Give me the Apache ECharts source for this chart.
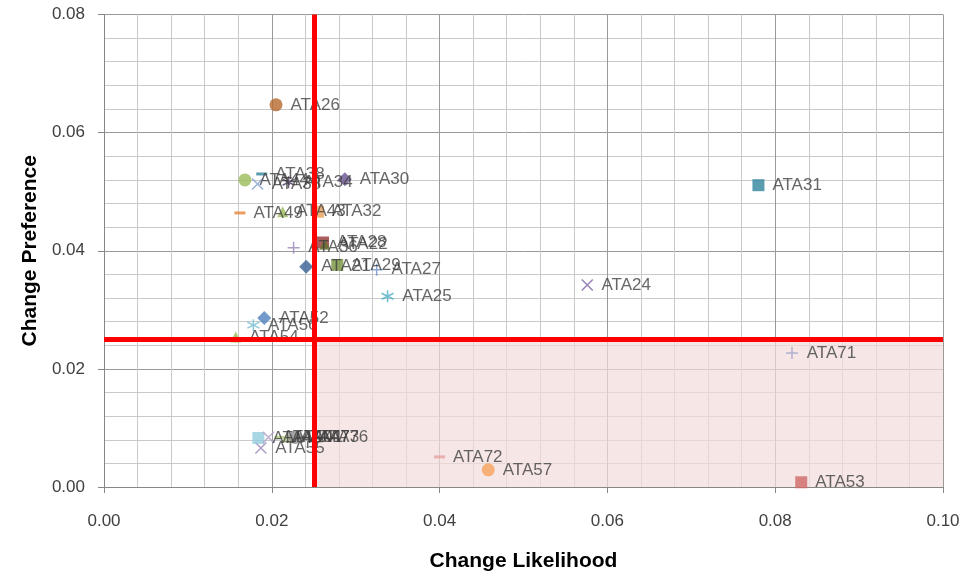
<!DOCTYPE html>
<html>
<head>
<meta charset="utf-8">
<script src="https://cdn.jsdelivr.net/npm/echarts@6/dist/echarts.min.js"></script>
<style>
  html, body { margin: 0; padding: 0; background: #ffffff; }
  #chart { width: 964px; height: 577px; }
</style>
</head>
<body>
<div id="chart"></div>
<script>
// Attribute codes with their change likelihood (x) and change preference (y)
const labels = [
  'ATA26', 'ATA38', 'ATA44', 'ATA33', 'ATA34', 'ATA30',
  'ATA49', 'ATA43', 'ATA32', 'ATA28', 'ATA22', 'ATA36',
  'ATA21', 'ATA29', 'ATA27', 'ATA25', 'ATA24', 'ATA31',
  'ATA71', 'ATA53', 'ATA72', 'ATA57', 'ATA52', 'ATA56',
  'ATA54', 'ATA55', 'ATA45', 'ATA40', 'ATA41', 'ATA47',
  'ATA73', 'ATA76'
];
const likelihood = [
  0.0205, 0.0188, 0.0168, 0.0183, 0.0220, 0.0287,
  0.0162, 0.0213, 0.0255, 0.0261, 0.0263, 0.0226,
  0.0241, 0.0278, 0.0325, 0.0338, 0.0576, 0.0780,
  0.0820, 0.0831, 0.0400, 0.0458, 0.0191, 0.0178,
  0.0157, 0.0187, 0.0184, 0.0196, 0.0210, 0.0218,
  0.0228, 0.0240
];
const preference = [
  0.0647, 0.0530, 0.0520, 0.0513, 0.0516, 0.0521,
  0.0464, 0.0466, 0.0466, 0.0414, 0.0411, 0.0405,
  0.0373, 0.0376, 0.0368, 0.0323, 0.0342, 0.0511,
  0.0227, 0.0008, 0.0051, 0.0029, 0.0286, 0.0274,
  0.0254, 0.0066, 0.0083, 0.0084, 0.0084, 0.0084,
  0.0084, 0.0084
];
// Quadrant thresholds
const likelihoodThreshold = 0.025;
const preferenceThreshold = 0.025;
// Axis extents and tick labels
const xMax = 0.1;
const yMax = 0.08;
const xTicks = ['0.00', '0.02', '0.04', '0.06', '0.08', '0.10'];
const yTicks = ['0.00', '0.02', '0.04', '0.06', '0.08'];

// Marker shapes (stroke-style paths for x, asterisk and plus)
const X_PATH = 'path://M0,0L10,10M10,0L0,10';
const STAR_PATH = 'path://M5,0L5,10M0,2.5L10,7.5M10,2.5L0,7.5';
const PLUS_PATH = 'path://M5,0L5,10M0,5L10,5';
const shapes = [
  'circle', 'dash', 'circle', 'x', 'star', 'diamond',
  'dash', 'triangle', 'rect', 'rect', 'triangle', 'plus',
  'diamond', 'rect', 'plus', 'star', 'x', 'rect',
  'plus', 'rect', 'dash', 'circle', 'diamond', 'star',
  'triangle', 'x', 'rect', 'x', 'dash', 'triangle',
  'circle', 'dash'
];
const colors = [
  '#B7682E', '#31859C', '#9BBB59', '#7E9FD0', '#4D3B62', '#6A5590',
  '#E9843A', '#9BBB59', '#E9A05A', '#943634', '#5F7530', '#9983B5',
  '#376092', '#77933C', '#6F8FC8', '#4BACC6', '#8064A2', '#31859C',
  '#9FA3C8', '#D06868', '#E6A0A0', '#F7A35C', '#4F81BD', '#6FBDD1',
  '#9BBB59', '#9983B5', '#93CDDD', '#B3A2C7', '#AFC97A', '#C3D69B',
  '#8C8C8C', '#A5A5A5'
];

function markerStyle(shape, color) {
  switch (shape) {
    case 'x':
      return { symbol: X_PATH, symbolSize: 11, itemStyle: { color: 'transparent', borderColor: color, borderWidth: 1.5 } };
    case 'star':
      return { symbol: STAR_PATH, symbolSize: 12, itemStyle: { color: 'transparent', borderColor: color, borderWidth: 1.5 } };
    case 'plus':
      return { symbol: PLUS_PATH, symbolSize: 12, itemStyle: { color: 'transparent', borderColor: color, borderWidth: 1.5 } };
    case 'dash':
      return { symbol: 'rect', symbolSize: [11, 3], itemStyle: { color: color } };
    case 'rect':
      return { symbol: 'rect', symbolSize: 12, itemStyle: { color: color } };
    case 'diamond':
      return { symbol: 'diamond', symbolSize: 14, itemStyle: { color: color } };
    case 'triangle':
      return { symbol: 'triangle', symbolSize: 11, itemStyle: { color: color } };
    default:
      return { symbol: 'circle', symbolSize: 13, itemStyle: { color: color } };
  }
}

const textColor = '#404040';
const fontFamily = '"Liberation Sans", Arial, sans-serif';

const pointSeries = labels.map(function (name, i) {
  const m = markerStyle(shapes[i], colors[i]);
  return {
    name: name,
    type: 'scatter',
    z: 3,
    symbol: m.symbol,
    symbolSize: m.symbolSize,
    itemStyle: m.itemStyle,
    label: {
      show: true,
      position: 'right',
      distance: 8,
      formatter: name,
      color: textColor,
      fontSize: 17,
      fontFamily: fontFamily
    },
    data: [[likelihood[i], preference[i]]]
  };
});

// Quadrant shading and threshold lines
const quadrantSeries = {
  type: 'scatter',
  z: 4,
  data: [],
  silent: true,
  markArea: {
    silent: true,
    itemStyle: { color: '#F2DCDB', opacity: 0.7 },
    data: [[{ coord: [likelihoodThreshold, 0] }, { coord: [xMax, preferenceThreshold] }]]
  },
  markLine: {
    silent: true,
    symbol: 'none',
    precision: 5,
    label: { show: false },
    lineStyle: { color: '#FF0000', width: 5, type: 'solid' },
    data: [
      [{ coord: [likelihoodThreshold, 0] }, { coord: [likelihoodThreshold, yMax] }],
      [{ coord: [0, preferenceThreshold] }, { coord: [xMax, preferenceThreshold] }]
    ]
  }
};

const axisCommon = {
  type: 'value',
  nameLocation: 'middle',
  nameTextStyle: { color: '#000000', fontSize: 21, fontWeight: 'bold', fontFamily: fontFamily },
  axisLine: { show: true, onZero: false, lineStyle: { color: '#868686', width: 1 } },
  axisTick: { show: true, inside: false, length: 6, lineStyle: { color: '#868686' } },
  minorTick: { show: false, splitNumber: 5 },
  splitLine: { show: true, lineStyle: { color: '#9A9A9A', width: 1 } },
  minorSplitLine: { show: true, lineStyle: { color: '#C9C9C9', width: 1 } }
};

const option = {
  animation: false,
  backgroundColor: '#ffffff',
  grid: { left: 104, right: 21, top: 14.5, bottom: 90, containLabel: false },
  xAxis: Object.assign({}, axisCommon, {
    name: 'Change Likelihood',
    nameGap: 64,
    min: 0,
    max: xMax,
    interval: 0.02,
    axisLabel: {
      margin: 26,
      color: textColor,
      fontSize: 17,
      fontFamily: fontFamily,
      formatter: function (v) { return xTicks[Math.round(v / 0.02)]; }
    }
  }),
  yAxis: Object.assign({}, axisCommon, {
    name: 'Change Preference',
    nameGap: 62,
    min: 0,
    max: yMax,
    interval: 0.02,
    axisLabel: {
      margin: 19,
      color: textColor,
      fontSize: 17,
      fontFamily: fontFamily,
      formatter: function (v) { return yTicks[Math.round(v / 0.02)]; }
    }
  }),
  series: [quadrantSeries].concat(pointSeries)
};

const chart = echarts.init(document.getElementById('chart'), null, { renderer: 'canvas' });
chart.setOption(option);
</script>
</body>
</html>
